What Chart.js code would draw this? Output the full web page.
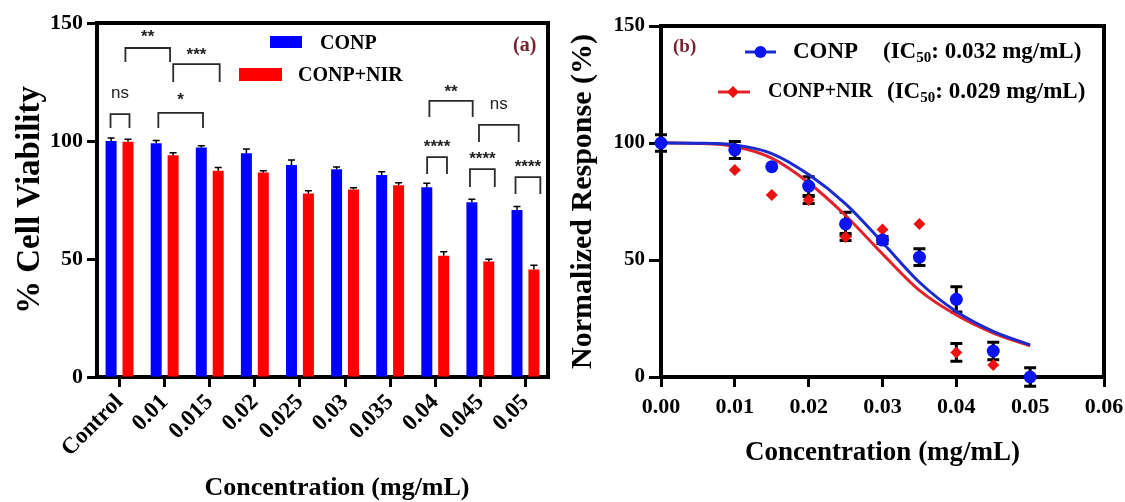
<!DOCTYPE html>
<html><head><meta charset="utf-8">
<script src="https://cdn.jsdelivr.net/npm/chart.js@4.4.1/dist/chart.umd.min.js"></script>
<style>
html,body{margin:0;padding:0;background:#fff;}
#wrap{position:relative;width:1125px;height:502px;overflow:hidden;background:#fff;}
#cl{position:absolute;left:0;top:0;}
#cr{position:absolute;left:560px;top:0;}
</style></head><body>
<div id="wrap"><canvas id="cl" width="560" height="502"></canvas><canvas id="cr" width="565" height="502"></canvas></div>
<script>
// ---------- Panel (a) data ----------
const barCategories = ['Control','0.01','0.015','0.02','0.025','0.03','0.035','0.04','0.045','0.05'];
const conpViability    = [100, 99, 97.2, 94.8, 89.8, 88, 85.6, 80.4, 74, 70.8];
const conpViabilityErr = [1.3, 1.2, 0.8, 1.8, 2.1, 1.0, 1.4, 1.7, 1.3, 1.4];
const nirViability     = [99.7, 94, 87.4, 86.7, 77.8, 79.5, 81.2, 51.4, 48.9, 45.6];
const nirViabilityErr  = [1.0, 1.0, 1.4, 0.7, 1.1, 0.7, 1.1, 1.7, 1.0, 1.8];
const viabilityTicks   = [0, 50, 100, 150];

// significance brackets (x in category-index units, y in % viability)
const sigText   = ['ns', '**', '***', '*', '**', 'ns', '****', '****', '****'];
const sigLeft   = [-0.2, 0.13, 1.19, 0.86, 6.87, 7.97, 6.82, 7.77, 8.78];
const sigRight  = [0.22, 1.12, 2.22, 1.85, 7.83, 8.85, 7.26, 8.32, 9.33];
const sigTop    = [111.4, 139.4, 132.6, 111.9, 117, 106.8, 93.2, 88.1, 84.7];
const sigFoot   = [105.5, 133.5, 125, 105.5, 110.2, 99.6, 86, 80.5, 77.5];
const sigLabelY = [120.3, 146.2, 138.6, 119.5, 122.9, 115.7, 99.6, 94.5, 91.1];

// ---------- Panel (b) data ----------
const doseConc        = [0, 0.01, 0.015, 0.02, 0.025, 0.03, 0.035, 0.04, 0.045, 0.05];
const conpResponse    = [100, 97, 89.9, 81.6, 65.4, 58.5, 51.2, 33.2, 11.1, 0];
const conpResponseErr = [3.5, 3.6, 0, 4, 5, 1.5, 3.6, 5.4, 3.7, 4];
const nirResponse     = [100, 88.5, 77.8, 75.6, 59.8, 63, 65.4, 10.5, 5.1, 0];
const nirResponseErr  = [0, 0, 0, 1.5, 1.5, 0, 0, 3.8, 0, 0];
const fitConc = [0, 0.005, 0.01, 0.015, 0.02, 0.025, 0.03, 0.035, 0.04, 0.045, 0.05];
const conpFit = [100, 99.9, 99.2, 95.5, 86.5, 74, 57.5, 40.5, 28, 19.5, 13.7];
const nirFit  = [100, 99.8, 98.5, 93.5, 83, 69, 52.6, 37, 26.5, 18.8, 13.3];
const concTicks = [0, 0.01, 0.02, 0.03, 0.04, 0.05, 0.06];
const responseTicks = [0, 50, 100, 150];
const conpIC50 = '0.032', nirIC50 = '0.029';

// ---------- styles ----------
const SERIF = "'Liberation Serif', 'Times New Roman', serif";
const SANS = "'Liberation Sans', Arial, sans-serif";
const BLUE = '#0000ff', RED = '#ff0000';
const CURVE_BLUE = '#1a2bd0', CURVE_RED = '#e3222b';
const LABEL_COLOR = '#7a2230';

function frame(chart, lw) {
  const {ctx, chartArea: a} = chart;
  ctx.save();
  ctx.strokeStyle = '#000'; ctx.lineWidth = lw;
  ctx.beginPath();
  ctx.moveTo(a.left - 2, a.top); ctx.lineTo(a.right, a.top); ctx.lineTo(a.right, a.bottom + 2);
  ctx.stroke();
  ctx.restore();
}

// ---------- Panel (a) ----------
const panelAPlugin = {
  id: 'panelA',
  afterDatasetsDraw(chart) {
    const ctx = chart.ctx, xs = chart.scales.x, ys = chart.scales.y;
    // error bars (upper only)
    ctx.save();
    ctx.strokeStyle = '#000'; ctx.lineWidth = 1.5;
    [[0, conpViability, conpViabilityErr], [1, nirViability, nirViabilityErr]].forEach(([di, vals, errs]) => {
      chart.getDatasetMeta(di).data.forEach((bar, i) => {
        const yv = ys.getPixelForValue(vals[i]);
        const ye = ys.getPixelForValue(vals[i] + errs[i]);
        ctx.beginPath();
        ctx.moveTo(bar.x, yv); ctx.lineTo(bar.x, ye);
        ctx.moveTo(bar.x - 3.5, ye); ctx.lineTo(bar.x + 3.5, ye);
        ctx.stroke();
      });
    });
    // significance brackets
    ctx.strokeStyle = '#2a2a2a'; ctx.lineWidth = 1.8;
    ctx.fillStyle = '#222';
    ctx.textAlign = 'center'; ctx.textBaseline = 'middle';
    sigText.forEach((t, i) => {
      const x1 = xs.getPixelForValue(sigLeft[i]), x2 = xs.getPixelForValue(sigRight[i]);
      const yt = ys.getPixelForValue(sigTop[i]), yf = ys.getPixelForValue(sigFoot[i]);
      ctx.beginPath();
      ctx.moveTo(x1, yf); ctx.lineTo(x1, yt); ctx.lineTo(x2, yt); ctx.lineTo(x2, yf);
      ctx.stroke();
      const ly = ys.getPixelForValue(sigLabelY[i]);
      if (t === 'ns') {
        ctx.font = "17px " + SANS;
        ctx.fillText(t, (x1 + x2) / 2, ly);
      } else {
        ctx.font = "bold 17px " + SANS;
        ctx.fillText(t, (x1 + x2) / 2, ly + 5);
      }
    });
    ctx.restore();
  },
  afterDraw(chart) {
    frame(chart, 4);
    const ctx = chart.ctx;
    ctx.save();
    // legend
    const ds = chart.data.datasets;
    ctx.fillStyle = ds[0].backgroundColor; ctx.fillRect(270, 36, 32, 12);
    ctx.fillStyle = ds[1].backgroundColor; ctx.fillRect(239, 68, 43, 13);
    ctx.fillStyle = '#000'; ctx.font = "bold 20px " + SERIF;
    ctx.textAlign = 'left'; ctx.textBaseline = 'middle';
    ctx.fillText(ds[0].label, 320, 44);
    ctx.fillText(ds[1].label, 298, 76);
    // panel label
    ctx.fillStyle = LABEL_COLOR; ctx.font = "bold 20px " + SERIF;
    ctx.fillText('(a)', 513, 46);
    // x title
    ctx.fillStyle = '#000'; ctx.font = "bold 26px " + SERIF;
    ctx.textAlign = 'center';
    ctx.fillText('Concentration (mg/mL)', 337, 488);
    ctx.restore();
  }
};

new Chart(document.getElementById('cl'), {
  type: 'bar',
  data: {
    labels: barCategories,
    datasets: [
      {label: 'CONP', data: conpViability, backgroundColor: BLUE, categoryPercentage: 0.75, barPercentage: 0.65},
      {label: 'CONP+NIR', data: nirViability, backgroundColor: RED, categoryPercentage: 0.75, barPercentage: 0.65}
    ]
  },
  options: {
    responsive: false, animation: false,
    layout: {padding: {top: 23, right: 12, left: 0, bottom: 0}},
    plugins: {legend: {display: false}, tooltip: {enabled: false}},
    scales: {
      x: {
        offset: true, z: 1,
        grid: {drawOnChartArea: false, offset: false, tickLength: 10, tickWidth: 3, tickColor: '#000'},
        border: {width: 4, color: '#000'},
        ticks: {minRotation: 45, maxRotation: 45, autoSkip: false, color: '#000', padding: 2,
                font: {family: SERIF, weight: 'bold', size: 23}},
        afterFit: s => { s.height = 125; s.paddingLeft = 0; s.paddingRight = 0; }
      },
      y: {
        min: 0, max: 150,
        afterBuildTicks: s => { s.ticks = viabilityTicks.map(v => ({value: v})); },
        grid: {drawOnChartArea: false, tickLength: 10, tickWidth: 3, tickColor: '#000'},
        border: {width: 4, color: '#000'},
        ticks: {color: '#000', padding: 4, font: {family: SERIF, weight: 'bold', size: 22}},
        title: {display: true, text: '% Cell Viability', color: '#000',
                font: {family: SERIF, weight: 'bold', size: 33}, padding: {top: 11, bottom: 0}},
        afterFit: s => { s.width = 97; s.paddingTop = 0; s.paddingBottom = 0; }
      }
    }
  },
  plugins: [panelAPlugin]
});

// ---------- Panel (b) ----------
const panelBPlugin = {
  id: 'panelB',
  beforeDatasetsDraw(chart) {
    const ctx = chart.ctx, xs = chart.scales.x, ys = chart.scales.y;
    ctx.save();
    ctx.strokeStyle = '#000'; ctx.lineWidth = 3;
    [[conpResponse, conpResponseErr], [nirResponse, nirResponseErr]].forEach(([vals, errs]) => {
      vals.forEach((v, i) => {
        if (!errs[i]) return;
        const x = xs.getPixelForValue(doseConc[i]);
        const y1 = ys.getPixelForValue(v - errs[i]), y2 = ys.getPixelForValue(v + errs[i]);
        ctx.beginPath();
        ctx.moveTo(x, y1); ctx.lineTo(x, y2);
        ctx.moveTo(x - 6, y1); ctx.lineTo(x + 6, y1);
        ctx.moveTo(x - 6, y2); ctx.lineTo(x + 6, y2);
        ctx.stroke();
      });
    });
    ctx.restore();
  },
  afterDraw(chart) {
    frame(chart, 4);
    const ctx = chart.ctx;
    const ds = chart.data.datasets;
    ctx.save();
    // panel label
    ctx.fillStyle = LABEL_COLOR; ctx.font = "bold 19px " + SERIF;
    ctx.textAlign = 'left'; ctx.textBaseline = 'middle';
    ctx.fillText('(b)', 113, 47);
    // legend row 1
    ctx.strokeStyle = ds[2].borderColor; ctx.lineWidth = 3;
    ctx.beginPath(); ctx.moveTo(185, 52); ctx.lineTo(216, 52); ctx.stroke();
    ctx.fillStyle = ds[0].backgroundColor;
    ctx.beginPath(); ctx.arc(200.5, 52, 6, 0, Math.PI * 2); ctx.fill();
    // legend row 2
    ctx.strokeStyle = ds[3].borderColor;
    ctx.beginPath(); ctx.moveTo(158, 92); ctx.lineTo(190, 92); ctx.stroke();
    ctx.fillStyle = ds[1].backgroundColor;
    ctx.beginPath(); ctx.moveTo(173, 86); ctx.lineTo(179, 92); ctx.lineTo(173, 98); ctx.lineTo(167, 92); ctx.closePath(); ctx.fill();
    ctx.fillStyle = '#000';
    ctx.font = "bold 23px " + SERIF;
    ctx.fillText(ds[0].label, 233, 52);
    ctx.font = "bold 20px " + SERIF;
    ctx.fillText(ds[1].label, 208, 92);
    function ic(x, y, val) {
      ctx.font = "bold 23px " + SERIF;
      ctx.fillText('(IC', x, y);
      x += ctx.measureText('(IC').width;
      ctx.font = "bold 15px " + SERIF;
      ctx.fillText('50', x, y + 6);
      x += ctx.measureText('50').width;
      ctx.font = "bold 23px " + SERIF;
      ctx.fillText(': ' + val + ' mg/mL)', x, y);
    }
    ic(323, 52, conpIC50);
    ic(327, 92, nirIC50);
    ctx.restore();
  }
};

new Chart(document.getElementById('cr'), {
  type: 'scatter',
  data: {
    datasets: [
      {label: 'CONP', data: doseConc.map((c, i) => ({x: c, y: conpResponse[i]})),
       backgroundColor: '#0a14f0', borderColor: '#0a14f0', pointStyle: 'circle', pointRadius: 6.5, borderWidth: 0, clip: false},
      {label: 'CONP+NIR', data: doseConc.map((c, i) => ({x: c, y: nirResponse[i]})),
       backgroundColor: '#ee1111', borderColor: '#ee1111', pointStyle: 'rectRot', pointRadius: 6, borderWidth: 0, clip: false},
      {label: 'CONP fit', type: 'line', data: fitConc.map((c, i) => ({x: c, y: conpFit[i]})),
       borderColor: CURVE_BLUE, borderWidth: 3, pointRadius: 0, cubicInterpolationMode: 'monotone', fill: false},
      {label: 'CONP+NIR fit', type: 'line', data: fitConc.map((c, i) => ({x: c, y: nirFit[i]})),
       borderColor: CURVE_RED, borderWidth: 3, pointRadius: 0, cubicInterpolationMode: 'monotone', fill: false}
    ]
  },
  options: {
    responsive: false, animation: false,
    layout: {padding: {top: 26, right: 21, left: 0, bottom: 0}},
    plugins: {legend: {display: false}, tooltip: {enabled: false}},
    scales: {
      x: {
        type: 'linear', min: 0, max: 0.06,
        afterBuildTicks: s => { s.ticks = concTicks.map(v => ({value: v})); },
        grid: {drawOnChartArea: false, tickLength: 10, tickWidth: 3, tickColor: '#000'},
        border: {width: 4, color: '#000'},
        ticks: {color: '#000', padding: 7, callback: v => Number(v).toFixed(2),
                font: {family: SERIF, weight: 'bold', size: 22}},
        title: {display: true, text: 'Concentration (mg/mL)', color: '#000',
                font: {family: SERIF, weight: 'bold', size: 27}, padding: {top: 0, bottom: 33}},
        afterFit: s => { s.height = 125; s.paddingLeft = 0; s.paddingRight = 0; }
      },
      y: {
        min: 0, max: 150,
        afterBuildTicks: s => { s.ticks = responseTicks.map(v => ({value: v})); },
        grid: {drawOnChartArea: false, tickLength: 12, tickWidth: 3, tickColor: '#000'},
        border: {width: 4, color: '#000'},
        ticks: {color: '#000', padding: 4, font: {family: SERIF, weight: 'bold', size: 21}},
        title: {display: true, text: 'Normalized Response (%)', color: '#000',
                font: {family: SERIF, weight: 'bold', size: 30}, padding: {top: 5, bottom: 0}},
        afterFit: s => { s.width = 101; s.paddingTop = 0; s.paddingBottom = 0; }
      }
    }
  },
  plugins: [panelBPlugin]
});
</script>
</body></html>
